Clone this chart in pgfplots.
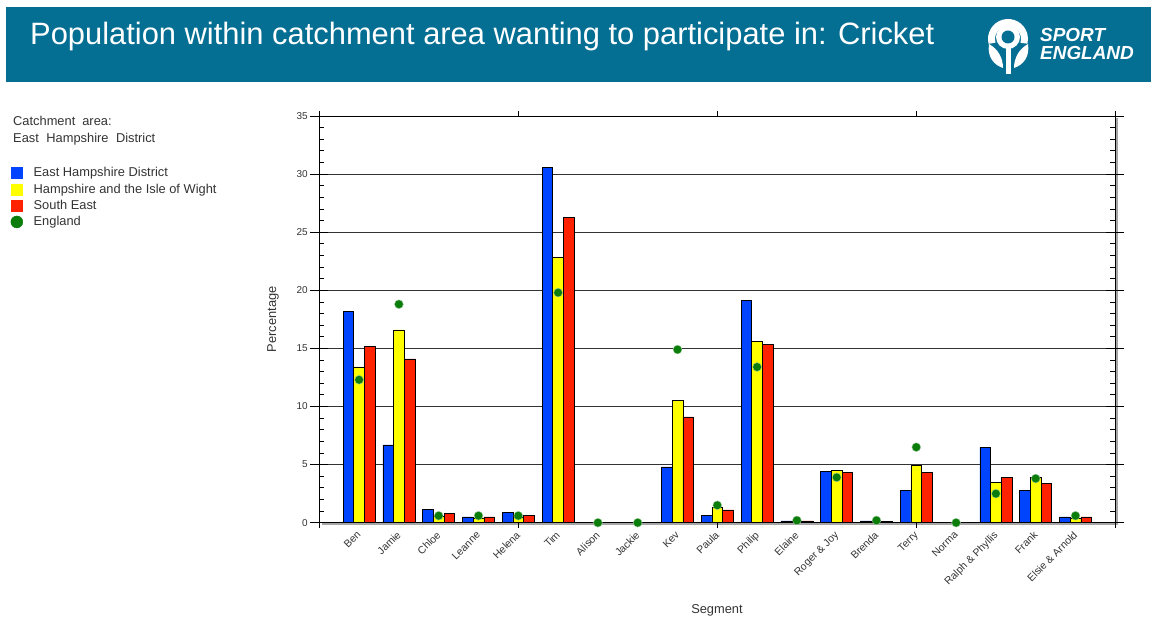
\documentclass[border=0pt]{standalone}
\usepackage{fontspec}
\setmainfont{Liberation Sans}
\usepackage{pgfplots}
\usepackage{pgfplotstable}
\pgfplotsset{compat=1.18}
\usetikzlibrary{shadows}
\definecolor{band}{HTML}{046E93}
\definecolor{cblue}{HTML}{0044FF}
\definecolor{cyellow}{HTML}{FFFF00}
\definecolor{cred}{HTML}{FF2200}
\definecolor{cgreen}{HTML}{0A7D0A}
\definecolor{tickgray}{HTML}{333333}

\pgfplotstableread{
x blue yellow red eng
0 18.2 13.4 15.2 12.3
1 6.7 16.6 14.1 18.8
2 1.15 0.55 0.8 0.6
3 0.5 0.4 0.5 0.6
4 0.9 0.5 0.65 0.6
5 30.6 22.85 26.3 19.8
6 0 0 0 0
7 0 0 0 0
8 4.8 10.55 9.1 14.9
9 0.65 1.3 1.1 1.5
10 19.1 15.6 15.35 13.4
11 0.15 0.1 0.15 0.2
12 4.4 4.5 4.35 3.9
13 0.15 0.1 0.1 0.2
14 2.8 4.9 4.35 6.5
15 0 0 0 0
16 6.5 3.45 3.9 2.5
17 2.8 3.9 3.4 3.8
18 0.5 0.4 0.5 0.6
}\data

\begin{document}
\begin{tikzpicture}
\useasboundingbox (0,0) rectangle (1153bp,619bp);
% header band
\fill[band] (6bp,537bp) rectangle (1151bp,612bp);
\node[anchor=base west, inner sep=0pt, text=white, font=\fontsize{31}{31}\selectfont] at (30bp,574bp)
  {Population within catchment area wanting to participate in: Cricket};
% logo
\draw[white, line width=7bp] (1008bp,580bp) ++(195:16.5bp) arc[start angle=195, end angle=-15, radius=16.5bp];
\fill[white] (1008bp,582bp) circle (12bp);
\fill[band] (1008bp,582bp) circle (6.5bp);
\draw[white, line width=5bp] (1008.5bp,572bp) -- (1008.5bp,545bp);
\fill[white] (989bp,575bp) .. controls (987bp,562bp) and (994bp,554bp) .. (1003bp,551bp)
  .. controls (1003bp,561bp) and (998bp,570bp) .. cycle;
\fill[white] (1028bp,575bp) .. controls (1030bp,562bp) and (1023bp,554bp) .. (1014bp,551bp)
  .. controls (1014bp,561bp) and (1019bp,570bp) .. cycle;
\node[anchor=base west, inner sep=0pt, text=white, font=\fontsize{19}{19}\selectfont\bfseries\itshape] at (1040bp,577bp) {SPORT};
\node[anchor=base west, inner sep=0pt, text=white, font=\fontsize{19}{19}\selectfont\bfseries\itshape] at (1040bp,559bp) {ENGLAND};
% catchment text
\node[anchor=base west, inner sep=0pt, text=tickgray, font=\fontsize{12.9}{12.9}\selectfont] at (13bp,493bp) {Catchment\hspace{7bp}area:};
\node[anchor=base west, inner sep=0pt, text=tickgray, font=\fontsize{12.9}{12.9}\selectfont] at (13bp,476bp) {East\hspace{7.5bp}Hampshire\hspace{7.5bp}District};

\begin{axis}[
  at={(319.3bp,96.3bp)}, anchor=south west,
  width=796bp, height=406.7bp, scale only axis,
  xmin=-1, xmax=19, ymin=0, ymax=35,
  clip=false,
  axis background/.style={fill=white, drop shadow={shadow xshift=2.5bp, shadow yshift=-2.5bp, fill=black!35, opacity=1}},
  xtick={0,...,18},
  xticklabels={Ben,Jamie,Chloe,Leanne,Helena,Tim,Alison,Jackie,Kev,Paula,Philip,Elaine,{Roger \& Joy},Brenda,Terry,Norma,{Ralph \& Phyllis},Frank,{Elsie \& Arnold}},
  major x tick style={draw=none},
  minor xtick={-1,4,9,14,19},
  xtick align=outside,
  ytick={0,5,...,35},
  minor y tick num=4,
  ytick align=inside,
  extra y ticks={0,5,...,35},
  extra y tick labels={},
  extra y tick style={ytick align=outside, grid=none},
  ymajorgrids,
  grid style={tickgray, line width=0.9bp},
  major tick length=9bp, minor tick length=5bp,
  tick style={black, line width=0.8bp},
  axis line style={black, line width=0.9bp},
  /pgf/number format/assume math mode=true,
  yticklabel style={font=\fontsize{10}{10}\selectfont, text=tickgray, xshift=-8bp},
  xticklabel style={rotate=45, anchor=north east, font=\fontsize{10.5}{10.5}\selectfont, text=tickgray, inner sep=1bp, yshift=4bp},
  ylabel={Percentage},
  ylabel style={at={(axis description cs:-0.0582,0.5)}, anchor=center, font=\fontsize{12.9}{12.9}\selectfont, text=tickgray},
  xlabel={Segment},
  xlabel style={at={(axis description cs:0.4996,-0.2147)}, anchor=center, font=\fontsize{12.9}{12.9}\selectfont, text=tickgray},
  legend style={at={(axis description cs:-0.388,0.8775)}, anchor=north west, draw=none, fill=none,
     font=\fontsize{12.9}{12.9}\selectfont, text=tickgray, row sep=2.3bp, inner sep=0pt,
     nodes={inner sep=1.6bp},
     /tikz/every odd column/.append style={column sep=9bp}},
  legend cell align=left,
]
\addplot[ybar, bar width=10.7bp, bar shift=-10.7bp, fill=cblue, draw=black, line width=0.6bp,
  legend image code/.code={\fill[cblue] (0bp,-5.5bp) rectangle (11bp,5.5bp);}] table[x=x,y=blue]{\data};
\addlegendentry{East Hampshire District}
\addplot[ybar, bar width=10.7bp, bar shift=0bp, fill=cyellow, draw=black, line width=0.6bp,
  legend image code/.code={\fill[cyellow] (0bp,-5.5bp) rectangle (11bp,5.5bp);}] table[x=x,y=yellow]{\data};
\addlegendentry{Hampshire and the Isle of Wight}
\addplot[ybar, bar width=10.7bp, bar shift=10.7bp, fill=cred, draw=black, line width=0.6bp,
  legend image code/.code={\fill[cred] (0bp,-5.5bp) rectangle (11bp,5.5bp);}] table[x=x,y=red]{\data};
\addlegendentry{South East}
\addplot[only marks, mark=*, mark size=4.4bp, mark options={fill=cgreen, draw=white!60!cgreen, line width=0.4bp},
  legend image code/.code={\fill[cgreen] (5.5bp,0bp) circle (6bp);}] table[x=x,y=eng]{\data};
\addlegendentry{England}
\end{axis}
\end{tikzpicture}
\end{document}
